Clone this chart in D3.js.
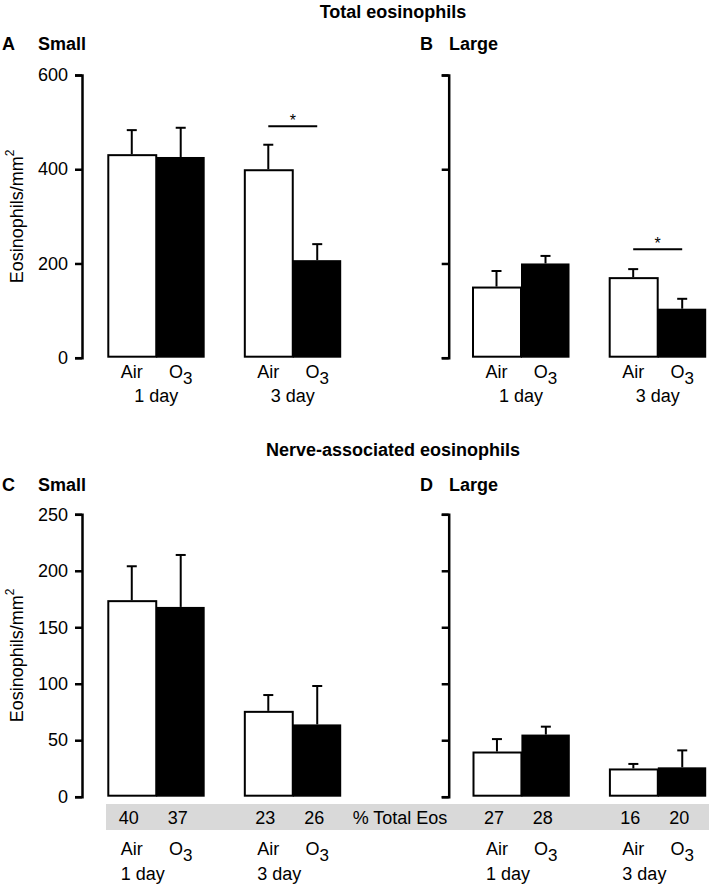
<!DOCTYPE html>
<html>
<head>
<meta charset="utf-8">
<script src="https://cdn.jsdelivr.net/npm/d3@7"></script>
<style>
  html, body { margin: 0; padding: 0; background: #fff; }
  svg { display: block; font-family: Arial, "Liberation Sans", Helvetica, sans-serif; }
</style>
</head>
<body>
<svg id="chart" width="709" height="888"></svg>
<script>
// ---- Data ----
const days = ["1 day", "3 day"];
const groups = ["Air", "O3"];
// order: [Air 1 day, O3 1 day, Air 3 day, O3 3 day]
const totalSmallMean = [432, 426, 400, 207];
const totalSmallSem  = [51, 62, 52, 34];
const totalLargeMean = [151, 200, 171, 104];
const totalLargeSem  = [33, 16, 17, 21];
const nerveSmallMean = [174, 168, 76, 64];
const nerveSmallSem  = [30, 46, 14, 34];
const nerveLargeMean = [40, 55, 25, 26];
const nerveLargeSem  = [11, 7, 4, 15];
const pctSmall = [40, 37, 23, 26];
const pctLarge = [27, 28, 16, 20];
const totalTicks = [0, 200, 400, 600];
const nerveTicks = [0, 50, 100, 150, 200, 250];
// significance bars: [day, value level]
const sigTotalSmall = ["3 day", 491];
const sigTotalLarge = ["3 day", 230];

const svg = d3.select("#chart");

function panel(o) {
  const g = svg.append("g");
  const y = d3.scaleLinear().domain([0, o.max]).range([o.yBot, o.yTop]);
  const xo = d3.scaleBand().domain(days).range(o.xRange).paddingInner(0.283).paddingOuter(0);
  const xi = d3.scaleBand().domain(groups).range([0, xo.bandwidth()]);
  const rows = [];
  days.forEach((d, di) => groups.forEach((gr, gi) => {
    const i = di * 2 + gi;
    rows.push({day: d, grp: gr, m: o.mean[i], s: o.sem[i], pct: o.pct ? o.pct[i] : null});
  }));
  const cx = r => xo(r.day) + xi(r.grp) + xi.bandwidth() / 2;

  // axis
  const ax = d3.axisLeft(y).tickValues(o.ticks).tickSize(7).tickSizeOuter(7).tickPadding(7);
  if (!o.labels) ax.tickFormat("");
  const ag = g.append("g").attr("transform", `translate(${o.axisX},0)`).call(ax);
  ag.select(".domain").attr("stroke", "#000").attr("stroke-width", 2.5).attr("fill", "none");
  ag.selectAll(".tick line").attr("stroke", "#000").attr("stroke-width", 2.5);
  ag.selectAll(".tick text").attr("fill", "#000").style("font-size", "18px");

  if (o.labels) {
    const t = g.append("text")
      .attr("transform", `translate(17,${(o.yTop + o.yBot) / 2}) rotate(-90)`)
      .attr("text-anchor", "middle").attr("dominant-baseline", "central")
      .style("font-size", "18px");
    t.append("tspan").text("Eosinophils/mm");
    t.append("tspan").attr("dy", -7).style("font-size", "12px").text("2");
  }

  // error bars
  const eb = g.append("g").attr("stroke", "#000").attr("stroke-width", 2);
  rows.forEach(r => {
    eb.append("line").attr("x1", cx(r)).attr("x2", cx(r)).attr("y1", y(r.m)).attr("y2", y(r.m + r.s));
    eb.append("line").attr("x1", cx(r) - 5).attr("x2", cx(r) + 5).attr("y1", y(r.m + r.s)).attr("y2", y(r.m + r.s));
  });

  // bars
  rows.forEach(r => {
    const bx = xo(r.day) + xi(r.grp);
    if (r.grp === "Air") {
      g.append("rect").attr("x", bx + 1).attr("y", y(r.m) + 1)
        .attr("width", xi.bandwidth() - 1).attr("height", y(0) - y(r.m) - 2)
        .attr("fill", "#fff").attr("stroke", "#000").attr("stroke-width", 2);
    } else {
      g.append("rect").attr("x", bx).attr("y", y(r.m))
        .attr("width", xi.bandwidth() - 0.5).attr("height", y(0) - y(r.m))
        .attr("fill", "#000");
    }
  });

  // significance
  if (o.sig) {
    const a = rows.find(r => r.day === o.sig[0] && r.grp === "Air");
    const b = rows.find(r => r.day === o.sig[0] && r.grp === "O3");
    const ly = y(o.sig[1]);
    g.append("line").attr("x1", cx(a)).attr("x2", cx(b)).attr("y1", ly).attr("y2", ly)
      .attr("stroke", "#000").attr("stroke-width", 2);
    g.append("text").attr("x", (cx(a) + cx(b)) / 2).attr("y", ly - 0.5)
      .attr("text-anchor", "middle").style("font-size", "16px").text("*");
  }

  // percent row
  if (o.pct) {
    rows.forEach(r => {
      g.append("text").attr("x", cx(r) - 3).attr("y", o.pctY)
        .attr("text-anchor", "middle").style("font-size", "18px").text(r.pct);
    });
  }

  // x labels
  rows.forEach(r => {
    const t = g.append("text").attr("x", cx(r)).attr("y", o.grpY)
      .attr("text-anchor", "middle").style("font-size", "18px");
    if (r.grp === "Air") t.text("Air");
    else { t.append("tspan").text("O"); t.append("tspan").attr("dy", 6).style("font-size", "17px").text("3"); }
  });
  days.forEach(d => {
    if (o.dayAlignLeft) {
      const r = rows.find(q => q.day === d && q.grp === "Air");
      g.append("text").attr("x", cx(r) - 11).attr("y", o.dayY)
        .attr("text-anchor", "start").style("font-size", "18px").text(d);
    } else {
      g.append("text").attr("x", xo(d) + xo.bandwidth() / 2).attr("y", o.dayY)
        .attr("text-anchor", "middle").style("font-size", "18px").text(d);
    }
  });

  // panel letter + name
  g.append("text").attr("x", o.letterX).attr("y", o.letterY)
    .style("font-size", "18px").style("font-weight", "bold").text(o.letter);
  g.append("text").attr("x", o.nameX).attr("y", o.letterY)
    .style("font-size", "18px").style("font-weight", "bold").text(o.name);
}

// titles
svg.append("text").attr("x", 393).attr("y", 18).attr("text-anchor", "middle")
  .style("font-size", "18px").style("font-weight", "bold").text("Total eosinophils");
svg.append("text").attr("x", 393).attr("y", 456).attr("text-anchor", "middle")
  .style("font-size", "18px").style("font-weight", "bold").text("Nerve-associated eosinophils");

// gray band for % Total Eos
svg.append("rect").attr("x", 106).attr("y", 804).attr("width", 603).attr("height", 26).attr("fill", "#d9d9d9");
svg.append("text").attr("x", 400).attr("y", 824).attr("text-anchor", "middle")
  .style("font-size", "18px").text("% Total Eos");

const topRow = {yTop: 75, yBot: 357.7, max: 600, ticks: totalTicks, grpY: 378, dayY: 402, letterY: 50};
const botRow = {yTop: 514.3, yBot: 796.7, max: 250, ticks: nerveTicks, grpY: 855, dayY: 880, letterY: 491, pctY: 824, dayAlignLeft: true};

panel(Object.assign({}, topRow, {axisX: 82, xRange: [107.3, 341.7], labels: true, mean: totalSmallMean, sem: totalSmallSem,
  sig: sigTotalSmall, letter: "A", letterX: 2, name: "Small", nameX: 38}));
panel(Object.assign({}, topRow, {axisX: 448.7, xRange: [472, 706.7], labels: false, mean: totalLargeMean, sem: totalLargeSem,
  sig: sigTotalLarge, letter: "B", letterX: 420, name: "Large", nameX: 449}));
panel(Object.assign({}, botRow, {axisX: 82, xRange: [107.3, 341.7], labels: true, mean: nerveSmallMean, sem: nerveSmallSem,
  pct: pctSmall, letter: "C", letterX: 2, name: "Small", nameX: 38}));
panel(Object.assign({}, botRow, {axisX: 448.7, xRange: [472.5, 706.7], labels: false, mean: nerveLargeMean, sem: nerveLargeSem,
  pct: pctLarge, letter: "D", letterX: 420, name: "Large", nameX: 449}));
</script>
</body>
</html>
